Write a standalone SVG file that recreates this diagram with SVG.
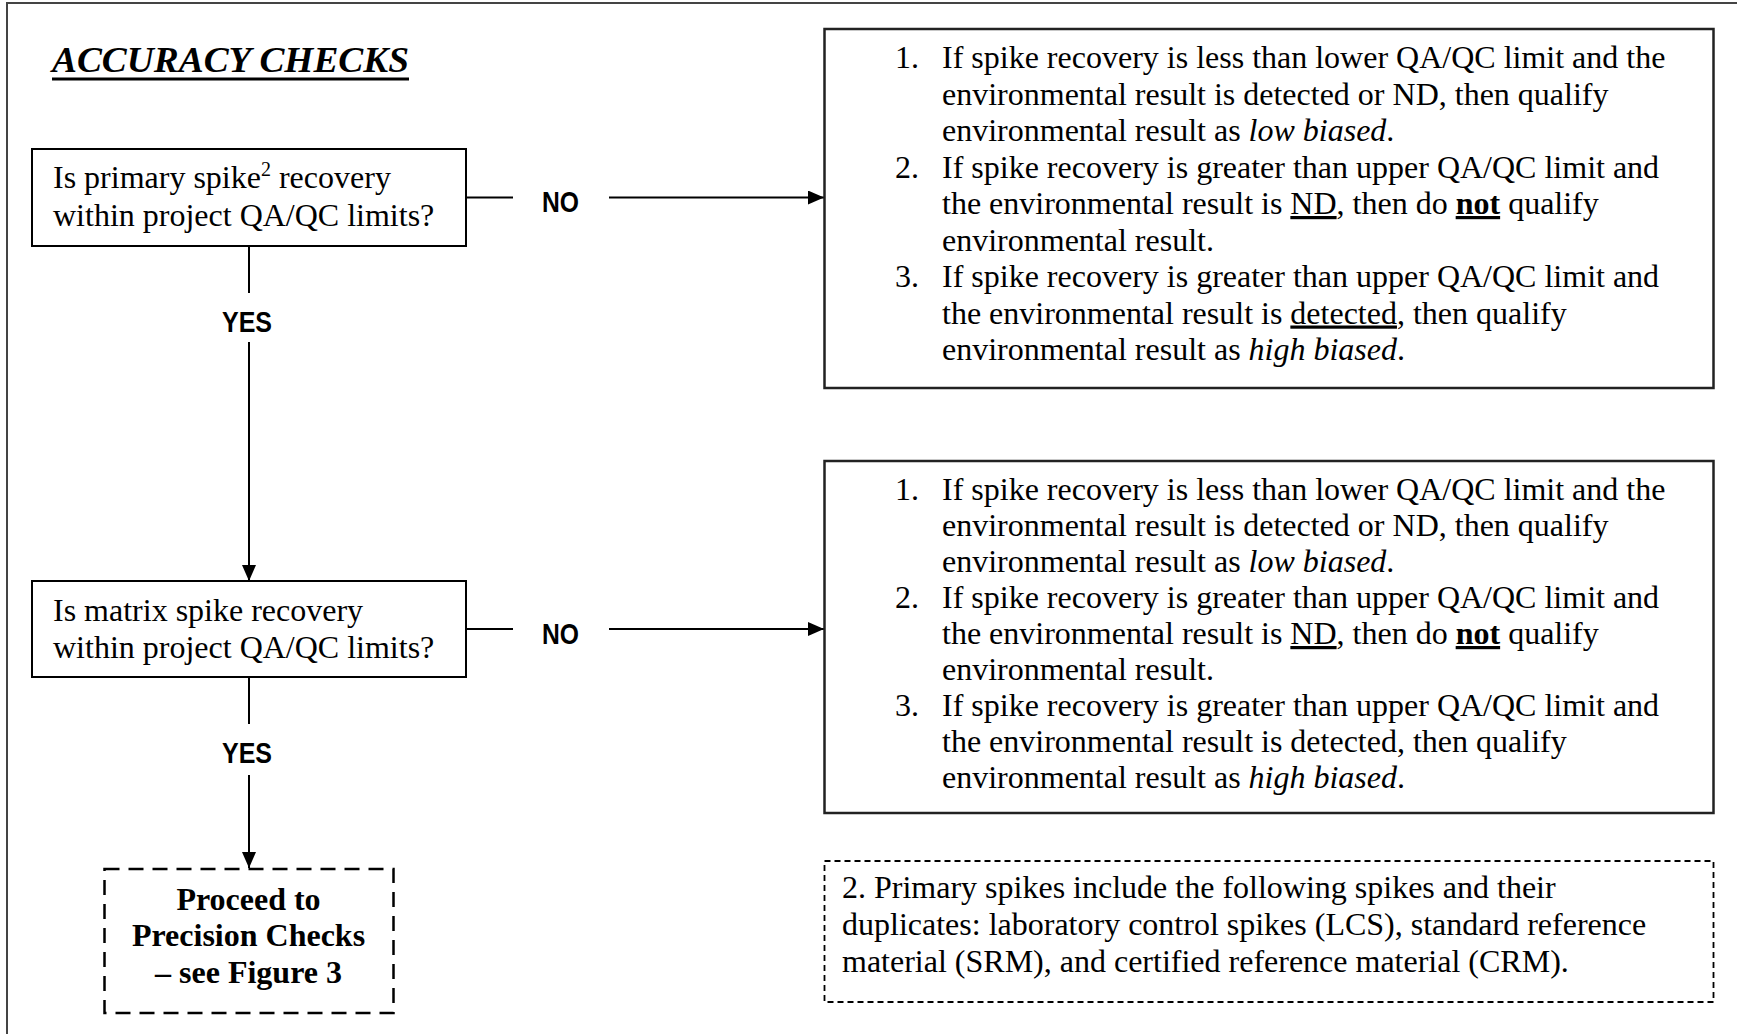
<svg xmlns="http://www.w3.org/2000/svg" width="1737" height="1034" viewBox="0 0 1737 1034">
<style>
.serif{font-family:"Liberation Serif","Times New Roman",serif;font-size:32px;fill:#000}
.lbl{font-family:"Liberation Sans",Arial,sans-serif;font-weight:bold;font-size:30px;fill:#000}
.box{fill:#fff;stroke:#000;stroke-width:2}
.rbox{fill:#fff;stroke:#222;stroke-width:2.5}
.dash{fill:#fff;stroke:#000;stroke-width:2.5;stroke-dasharray:15 9}
.note{fill:#fff;stroke:#000;stroke-width:1.8;stroke-dasharray:6 4}
.conn line{stroke:#000;stroke-width:2}
.u{text-decoration:underline}
.i{font-style:italic}
.b{font-weight:bold}
</style>
<defs>
<marker id="arr" viewBox="0 0 16 14" refX="16" refY="7" markerWidth="16" markerHeight="14" markerUnits="userSpaceOnUse" orient="auto">
<path d="M0,0 L16,7 L0,14 z" fill="#000"/>
</marker>
</defs>
<rect width="1737" height="1034" fill="#fff"/>
<path d="M7,1040 L7,3 L1740,3" fill="none" stroke="#444" stroke-width="2"/>

<g id="title">
<text x="52" y="72" class="serif" style="font-size:36px;font-weight:bold;font-style:italic" textLength="357" lengthAdjust="spacingAndGlyphs">ACCURACY CHECKS</text>
<line x1="52" y1="79" x2="409" y2="79" stroke="#000" stroke-width="3"/>
</g>

<g class="conn" id="connectors">
<line x1="466" y1="197.5" x2="513" y2="197.5"/>
<line x1="609" y1="197.5" x2="824" y2="197.5" marker-end="url(#arr)"/>
<line x1="466" y1="629" x2="513" y2="629"/>
<line x1="609" y1="629" x2="824" y2="629" marker-end="url(#arr)"/>
<line x1="249" y1="246" x2="249" y2="293"/>
<line x1="249" y1="342" x2="249" y2="581" marker-end="url(#arr)"/>
<line x1="249" y1="677" x2="249" y2="724"/>
<line x1="249" y1="775" x2="249" y2="868" marker-end="url(#arr)"/>
<text class="lbl" x="542" y="212" textLength="37" lengthAdjust="spacingAndGlyphs">NO</text>
<text class="lbl" x="542" y="644" textLength="37" lengthAdjust="spacingAndGlyphs">NO</text>
<text class="lbl" x="222" y="332" textLength="50" lengthAdjust="spacingAndGlyphs">YES</text>
<text class="lbl" x="222" y="763" textLength="50" lengthAdjust="spacingAndGlyphs">YES</text>
</g>

<g id="q1">
<rect class="box" x="32" y="149" width="434" height="97"/>
<text class="serif" x="53" y="188">Is primary spike<tspan font-size="20" dy="-12">2</tspan><tspan dy="12"> recovery</tspan></text>
<text class="serif" x="53" y="226">within project QA/QC limits?</text>
</g>

<g id="q2">
<rect class="box" x="32" y="581" width="434" height="96"/>
<text class="serif" x="53" y="621">Is matrix spike recovery</text>
<text class="serif" x="53" y="658">within project QA/QC limits?</text>
</g>

<g id="r1">
<rect class="rbox" x="824.5" y="29" width="889" height="359"/>
<text class="serif" x="895" y="68">1.</text>
<text class="serif" x="942" y="68">If spike recovery is less than lower QA/QC limit and the</text>
<text class="serif" x="942" y="104.5">environmental result is detected or ND, then qualify</text>
<text class="serif" x="942" y="141">environmental result as <tspan class="i">low biased</tspan>.</text>
<text class="serif" x="895" y="177.5">2.</text>
<text class="serif" x="942" y="177.5">If spike recovery is greater than upper QA/QC limit and</text>
<text class="serif" x="942" y="214">the environmental result is <tspan class="u">ND</tspan>, then do <tspan class="b u">not</tspan> qualify</text>
<text class="serif" x="942" y="250.5">environmental result.</text>
<text class="serif" x="895" y="287">3.</text>
<text class="serif" x="942" y="287">If spike recovery is greater than upper QA/QC limit and</text>
<text class="serif" x="942" y="323.5">the environmental result is <tspan class="u">detected</tspan>, then qualify</text>
<text class="serif" x="942" y="360">environmental result as <tspan class="i">high biased</tspan>.</text>
</g>

<g id="r2">
<rect class="rbox" x="824.5" y="461" width="889" height="352"/>
<text class="serif" x="895" y="500">1.</text>
<text class="serif" x="942" y="500">If spike recovery is less than lower QA/QC limit and the</text>
<text class="serif" x="942" y="536">environmental result is detected or ND, then qualify</text>
<text class="serif" x="942" y="572">environmental result as <tspan class="i">low biased</tspan>.</text>
<text class="serif" x="895" y="608">2.</text>
<text class="serif" x="942" y="608">If spike recovery is greater than upper QA/QC limit and</text>
<text class="serif" x="942" y="644">the environmental result is <tspan class="u">ND</tspan>, then do <tspan class="b u">not</tspan> qualify</text>
<text class="serif" x="942" y="680">environmental result.</text>
<text class="serif" x="895" y="716">3.</text>
<text class="serif" x="942" y="716">If spike recovery is greater than upper QA/QC limit and</text>
<text class="serif" x="942" y="752">the environmental result is detected, then qualify</text>
<text class="serif" x="942" y="788">environmental result as <tspan class="i">high biased</tspan>.</text>
</g>

<g id="proceed">
<rect class="dash" x="104.5" y="869" width="289" height="144"/>
<text class="serif b" x="248.5" y="910" text-anchor="middle">Proceed to</text>
<text class="serif b" x="248.5" y="946" text-anchor="middle">Precision Checks</text>
<text class="serif b" x="248.5" y="983" text-anchor="middle">– see Figure 3</text>
</g>

<g id="footnote">
<rect class="note" x="824.5" y="861" width="889" height="141"/>
<text class="serif" x="842" y="898">2. Primary spikes include the following spikes and their</text>
<text class="serif" x="842" y="935">duplicates: laboratory control spikes (LCS), standard reference</text>
<text class="serif" x="842" y="972">material (SRM), and certified reference material (CRM).</text>
</g>
</svg>
